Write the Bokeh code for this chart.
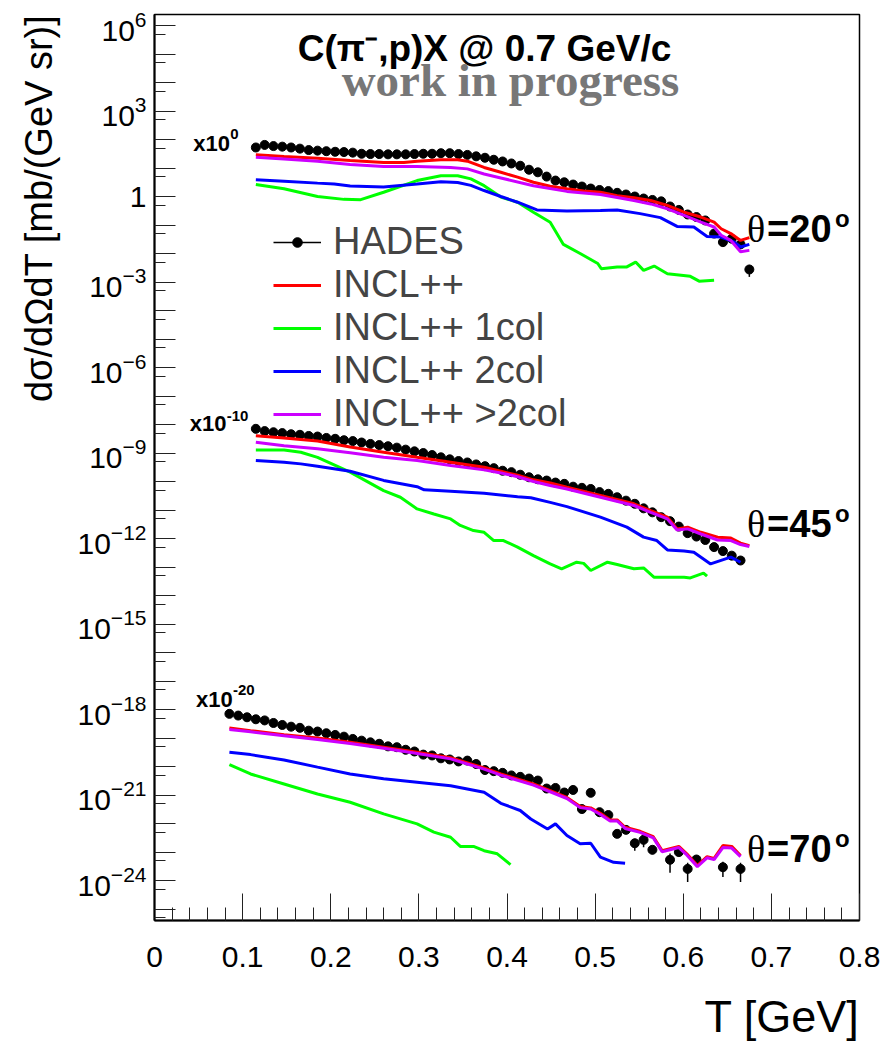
import numpy as np
from bokeh.plotting import figure
from bokeh.models import Range1d, FixedTicker, Legend, LegendItem, ColumnDataSource, Title
from bokeh.core.properties import value
from bokeh.embed import file_html
from bokeh.resources import INLINE

# ---------------- data: log10 of dsigma/dOmega dT [mb/(GeV sr)], before scaling ----------------
angle_names = ["20", "45", "70"]
scale_factors = [1.0, 1e-10, 1e-20]
scale_exponents = ["0", "-10", "-20"]
series_names = ["HADES", "INCL++", "INCL++ 1col", "INCL++ 2col", "INCL++ >2col"]

# HADES, theta = 20 deg
hades_T_20 = [0.115, 0.125, 0.135, 0.145, 0.155, 0.165, 0.175, 0.185, 0.195, 0.205,
              0.215, 0.225, 0.235, 0.245, 0.255, 0.265, 0.275, 0.285, 0.295, 0.305,
              0.315, 0.325, 0.335, 0.345, 0.355, 0.365, 0.375, 0.385, 0.395, 0.405,
              0.415, 0.425, 0.435, 0.445, 0.455, 0.465, 0.475, 0.485, 0.495, 0.505,
              0.515, 0.525, 0.535, 0.545, 0.555, 0.565, 0.575, 0.585, 0.595, 0.605,
              0.615, 0.625, 0.635, 0.645, 0.655, 0.665, 0.675]
hades_log_20 = [1.72, 1.81, 1.77, 1.75, 1.72, 1.68, 1.63, 1.61, 1.59, 1.57,
                1.56, 1.54, 1.50, 1.49, 1.49, 1.48, 1.48, 1.48, 1.49, 1.50,
                1.50, 1.52, 1.52, 1.49, 1.46, 1.41, 1.36, 1.29, 1.23, 1.16,
                1.08, 0.94, 0.85, 0.70, 0.56, 0.50, 0.42, 0.35, 0.28, 0.23,
                0.19, 0.13, 0.07, 0.00, -0.07, -0.12, -0.17, -0.35, -0.47, -0.63,
                -0.72, -0.84, -1.30, -1.60, -1.48, -1.68, -2.56]
hades_relerr_20 = [0.03, 0.03, 0.03, 0.03, 0.03, 0.03, 0.03, 0.03, 0.03, 0.03,
                   0.03, 0.03, 0.03, 0.03, 0.03, 0.03, 0.03, 0.03, 0.03, 0.03,
                   0.03, 0.03, 0.03, 0.03, 0.03, 0.03, 0.03, 0.03, 0.03, 0.03,
                   0.04, 0.04, 0.04, 0.04, 0.04, 0.04, 0.04, 0.04, 0.04, 0.04,
                   0.05, 0.05, 0.05, 0.05, 0.05, 0.05, 0.05, 0.06, 0.06, 0.06,
                   0.07, 0.07, 0.08, 0.10, 0.10, 0.12, 0.45]

# HADES, theta = 45 deg
hades_T_45 = [0.115, 0.125, 0.135, 0.145, 0.155, 0.165, 0.175, 0.185, 0.195, 0.205,
              0.215, 0.225, 0.235, 0.245, 0.255, 0.265, 0.275, 0.285, 0.295, 0.305,
              0.315, 0.325, 0.335, 0.345, 0.355, 0.365, 0.375, 0.385, 0.395, 0.405,
              0.415, 0.425, 0.435, 0.445, 0.455, 0.465, 0.475, 0.485, 0.495, 0.505,
              0.515, 0.525, 0.535, 0.545, 0.555, 0.565, 0.575, 0.585, 0.595, 0.605,
              0.615, 0.625, 0.635, 0.645, 0.655, 0.665]
hades_log_45 = [1.85, 1.77, 1.73, 1.70, 1.66, 1.64, 1.60, 1.58, 1.53, 1.50,
                1.45, 1.42, 1.37, 1.32, 1.28, 1.24, 1.19, 1.12, 1.06, 1.00,
                0.93, 0.85, 0.78, 0.72, 0.67, 0.60, 0.54, 0.47, 0.38, 0.33,
                0.24, 0.15, 0.08, 0.035, -0.035, -0.08, -0.18, -0.22, -0.26, -0.37,
                -0.43, -0.55, -0.67, -0.78, -0.94, -1.08, -1.25, -1.39, -1.58, -1.81,
                -1.93, -2.05, -2.30, -2.44, -2.60, -2.77]
hades_relerr_45 = [0.03, 0.03, 0.03, 0.03, 0.03, 0.03, 0.03, 0.03, 0.03, 0.03,
                   0.03, 0.03, 0.03, 0.03, 0.03, 0.03, 0.03, 0.03, 0.03, 0.03,
                   0.03, 0.03, 0.03, 0.03, 0.03, 0.03, 0.03, 0.03, 0.03, 0.03,
                   0.04, 0.04, 0.04, 0.04, 0.04, 0.04, 0.04, 0.04, 0.04, 0.04,
                   0.05, 0.05, 0.05, 0.05, 0.05, 0.05, 0.05, 0.06, 0.06, 0.06,
                   0.08, 0.08, 0.10, 0.10, 0.12, 0.12]

# HADES, theta = 70 deg (nan = no point)
hades_T_70 = [0.085, 0.095, 0.105, 0.115, 0.125, 0.135, 0.145, 0.155, 0.165, 0.175,
              0.185, 0.195, 0.205, 0.215, 0.225, 0.235, 0.245, 0.255, 0.265, 0.275,
              0.285, 0.295, 0.305, 0.315, 0.325, 0.335, 0.345, 0.355, 0.365, 0.375,
              0.385, 0.395, 0.405, 0.415, 0.425, 0.435, 0.445, 0.455, 0.465, 0.475,
              0.485, 0.495, 0.505, 0.515, 0.525, 0.535, 0.545, 0.555, 0.565, 0.575,
              0.585, 0.595, 0.605, 0.615, 0.625, 0.635, 0.645, 0.655, 0.665]
hades_log_70 = [1.85, 1.79, 1.73, 1.66, 1.62, 1.53, 1.46, 1.40, 1.36, 1.26,
                1.23, 1.17, 1.11, 1.05, 0.97, 0.91, 0.85, 0.80, 0.71, 0.68,
                0.59, 0.53, 0.42, 0.39, 0.29, 0.25, 0.18, 0.21, 0.09, -0.12,
                -0.16, -0.22, -0.31, -0.36, -0.42, -0.49, -0.77, -0.75, -0.91, -0.82,
                -1.49, -0.92, -1.60, -1.70, -2.36, -2.22, -2.69, -2.57, -2.92, np.nan,
                -3.27, -3.00, -3.59, -3.26, np.nan, np.nan, -3.53, np.nan, -3.59]
hades_relerr_70 = [0.03, 0.03, 0.03, 0.03, 0.03, 0.03, 0.03, 0.03, 0.03, 0.03,
                   0.03, 0.03, 0.03, 0.03, 0.03, 0.03, 0.03, 0.03, 0.03, 0.03,
                   0.04, 0.04, 0.04, 0.04, 0.04, 0.04, 0.04, 0.04, 0.04, 0.05,
                   0.05, 0.05, 0.05, 0.06, 0.06, 0.06, 0.08, 0.08, 0.10, 0.10,
                   0.12, 0.12, 0.15, 0.15, 0.20, 0.20, 0.45, 0.45, 0.30, 0.0,
                   0.65, 0.30, 0.65, 0.30, 0.0, 0.0, 0.55, 0.0, 0.65]

# INCL++ total (red)
red_T_20 = [0.115, 0.147, 0.185, 0.222, 0.260, 0.283, 0.298, 0.325, 0.344, 0.355,
            0.374, 0.393, 0.412, 0.430, 0.449, 0.468, 0.487, 0.506, 0.525, 0.544,
            0.563, 0.582, 0.601, 0.620, 0.635, 0.643, 0.654, 0.665, 0.675]
red_log_20 = [1.47, 1.40, 1.34, 1.26, 1.19, 1.19, 1.24, 1.29, 1.29, 1.24,
              1.02, 0.85, 0.68, 0.50, 0.36, 0.27, 0.19, 0.15, 0.03, -0.04,
              -0.14, -0.31, -0.55, -0.72, -0.90, -1.13, -1.30, -1.54, -1.44]
red_T_45 = [0.115, 0.147, 0.185, 0.222, 0.260, 0.298, 0.336, 0.374, 0.393, 0.412,
            0.430, 0.449, 0.468, 0.506, 0.544, 0.563, 0.582, 0.593, 0.605, 0.620,
            0.639, 0.654, 0.665, 0.675]
red_log_45 = [1.61, 1.53, 1.42, 1.21, 1.03, 0.85, 0.68, 0.50, 0.36, 0.22,
              0.06, -0.05, -0.20, -0.49, -0.78, -1.02, -1.25, -1.66, -1.60, -1.78,
              -1.95, -1.98, -2.16, -2.25]
red_T_70 = [0.085, 0.109, 0.147, 0.185, 0.222, 0.260, 0.298, 0.336, 0.374, 0.393,
            0.430, 0.468, 0.483, 0.495, 0.506, 0.517, 0.525, 0.534, 0.551, 0.566,
            0.576, 0.595, 0.604, 0.616, 0.627, 0.635, 0.645, 0.655, 0.665]
red_log_70 = [1.35, 1.26, 1.12, 1.00, 0.85, 0.68, 0.50, 0.31, -0.05, -0.26,
              -0.61, -1.08, -1.40, -1.45, -1.64, -1.87, -1.87, -2.13, -2.27, -2.46,
              -2.95, -2.80, -3.06, -3.47, -3.16, -3.22, -2.77, -2.80, -3.12]

# INCL++ 1 collision (green)
green_T_20 = [0.115, 0.147, 0.185, 0.215, 0.234, 0.260, 0.298, 0.325, 0.344, 0.359,
              0.374, 0.393, 0.412, 0.430, 0.449, 0.464, 0.483, 0.503, 0.507, 0.525,
              0.536, 0.546, 0.555, 0.567, 0.582, 0.608, 0.618, 0.635]
green_log_20 = [0.42, 0.27, 0.00, -0.10, -0.11, 0.15, 0.56, 0.73, 0.73, 0.62,
                0.38, -0.02, -0.20, -0.55, -0.90, -1.68, -2.00, -2.35, -2.53, -2.47,
                -2.47, -2.30, -2.59, -2.44, -2.71, -2.80, -2.97, -2.94]
green_T_45 = [0.115, 0.147, 0.166, 0.185, 0.222, 0.260, 0.279, 0.298, 0.317, 0.336,
              0.347, 0.362, 0.374, 0.385, 0.396, 0.412, 0.430, 0.449, 0.462, 0.479,
              0.487, 0.495, 0.514, 0.525, 0.544, 0.555, 0.567, 0.601, 0.608, 0.623,
              0.627]
green_log_45 = [1.11, 1.11, 1.03, 0.85, 0.33, -0.32, -0.55, -0.96, -1.14, -1.31,
                -1.54, -1.72, -1.78, -2.07, -2.07, -2.30, -2.60, -2.89, -3.06, -2.83,
                -2.87, -3.12, -2.83, -2.91, -3.06, -3.03, -3.36, -3.36, -3.38, -3.21,
                -3.32]
green_T_70 = [0.085, 0.109, 0.147, 0.185, 0.222, 0.260, 0.298, 0.317, 0.336, 0.347,
              0.362, 0.374, 0.389, 0.404]
green_log_70 = [0.07, -0.26, -0.61, -0.96, -1.25, -1.66, -2.01, -2.30, -2.48, -2.80,
                -2.80, -2.95, -3.06, -3.44]

# INCL++ 2 collisions (blue)
blue_T_20 = [0.115, 0.147, 0.185, 0.204, 0.222, 0.260, 0.298, 0.325, 0.344, 0.359,
             0.374, 0.393, 0.412, 0.434, 0.468, 0.506, 0.525, 0.551, 0.574, 0.593,
             0.612, 0.627, 0.643, 0.658, 0.665, 0.675]
blue_log_20 = [0.59, 0.54, 0.47, 0.44, 0.37, 0.33, 0.44, 0.52, 0.49, 0.39,
               0.21, 0.00, -0.20, -0.47, -0.51, -0.49, -0.47, -0.60, -0.74, -1.05,
               -1.07, -1.40, -1.42, -1.60, -1.77, -1.68]
blue_T_45 = [0.115, 0.147, 0.166, 0.185, 0.222, 0.260, 0.298, 0.306, 0.336, 0.374,
             0.412, 0.427, 0.449, 0.468, 0.506, 0.536, 0.555, 0.570, 0.582, 0.601,
             0.612, 0.631, 0.654, 0.665]
blue_log_45 = [0.74, 0.68, 0.62, 0.54, 0.36, 0.04, -0.18, -0.29, -0.34, -0.41,
               -0.53, -0.57, -0.73, -0.88, -1.25, -1.60, -1.95, -2.07, -2.40, -2.44,
               -2.48, -2.89, -2.65, -2.83]
blue_T_70 = [0.085, 0.109, 0.147, 0.185, 0.222, 0.260, 0.298, 0.336, 0.374, 0.393,
             0.415, 0.427, 0.446, 0.455, 0.468, 0.483, 0.495, 0.506, 0.521, 0.534]
blue_log_70 = [0.50, 0.42, 0.23, -0.02, -0.26, -0.43, -0.55, -0.67, -0.90, -1.29,
               -1.54, -1.84, -2.19, -2.01, -2.42, -2.71, -2.69, -3.18, -3.36, -3.39]

# INCL++ >2 collisions (magenta)
mag_T_20 = [0.115, 0.147, 0.185, 0.222, 0.260, 0.298, 0.336, 0.355, 0.374, 0.393,
            0.430, 0.468, 0.506, 0.544, 0.563, 0.582, 0.601, 0.620, 0.635, 0.643,
            0.654, 0.665, 0.675]
mag_log_20 = [1.38, 1.32, 1.24, 1.12, 1.05, 1.05, 1.02, 0.97, 0.79, 0.65,
              0.38, 0.18, 0.07, -0.14, -0.26, -0.43, -0.66, -0.90, -1.07, -1.36,
              -1.54, -1.94, -1.89]
mag_T_45 = [0.115, 0.147, 0.185, 0.222, 0.260, 0.298, 0.336, 0.374, 0.393, 0.412,
            0.430, 0.449, 0.468, 0.506, 0.544, 0.563, 0.582, 0.593, 0.605, 0.620,
            0.639, 0.654, 0.665, 0.675]
mag_log_45 = [1.38, 1.26, 1.15, 1.01, 0.85, 0.74, 0.56, 0.41, 0.30, 0.17,
              0.00, -0.14, -0.26, -0.55, -0.84, -1.08, -1.31, -1.70, -1.66, -1.84,
              -2.05, -2.07, -2.21, -2.28]
mag_T_70 = [0.085, 0.109, 0.147, 0.185, 0.222, 0.260, 0.298, 0.336, 0.374, 0.393,
            0.430, 0.468, 0.483, 0.495, 0.506, 0.517, 0.525, 0.534, 0.551, 0.566,
            0.576, 0.595, 0.604, 0.616, 0.627, 0.635, 0.645, 0.655, 0.665]
mag_log_70 = [1.30, 1.22, 1.08, 0.95, 0.81, 0.64, 0.46, 0.27, -0.09, -0.30,
              -0.65, -1.12, -1.44, -1.49, -1.68, -1.91, -1.91, -2.17, -2.31, -2.50,
              -2.99, -2.84, -3.10, -3.51, -3.20, -3.26, -2.84, -2.86, -3.16]

x_tick_labels = ["0", "0.1", "0.2", "0.3", "0.4", "0.5", "0.6", "0.7", "0.8"]

# ---------------- assemble ----------------
hades = {"20": (hades_T_20, hades_log_20, hades_relerr_20),
         "45": (hades_T_45, hades_log_45, hades_relerr_45),
         "70": (hades_T_70, hades_log_70, hades_relerr_70)}
models = {
    "INCL++ 1col": {"20": (green_T_20, green_log_20), "45": (green_T_45, green_log_45), "70": (green_T_70, green_log_70)},
    "INCL++ 2col": {"20": (blue_T_20, blue_log_20), "45": (blue_T_45, blue_log_45), "70": (blue_T_70, blue_log_70)},
    "INCL++": {"20": (red_T_20, red_log_20), "45": (red_T_45, red_log_45), "70": (red_T_70, red_log_70)},
    "INCL++ >2col": {"20": (mag_T_20, mag_log_20), "45": (mag_T_45, mag_log_45), "70": (mag_T_70, mag_log_70)},
}
colors = {"INCL++": "#ff0000", "INCL++ 1col": "#00ff00", "INCL++ 2col": "#0000ff", "INCL++ >2col": "#cc00ff"}

FONT = "Liberation Sans"

p = figure(width=889, height=1050, y_axis_type="log",
           x_range=Range1d(0, 0.8), y_range=Range1d(10 ** -25.40, 10 ** 6.386),
           output_backend="svg", toolbar_location=None,
           min_border_left=154, min_border_right=30, min_border_top=14, min_border_bottom=130)
p.xgrid.visible = False
p.ygrid.visible = False
p.outline_line_color = "black"
p.outline_line_width = 1.5
p.background_fill_color = "white"
p.border_fill_color = "white"

# x axis
x_ticks = [0.0, 0.1, 0.2, 0.3, 0.4, 0.5, 0.6, 0.7, 0.8]
x_minor = [round(0.02 * k, 2) for k in range(0, 41)]
p.xaxis.ticker = FixedTicker(ticks=x_ticks, minor_ticks=x_minor)
p.xaxis.major_label_overrides = {t: s for t, s in zip(x_ticks, x_tick_labels)}
p.xaxis.major_tick_in = 27
p.xaxis.major_tick_out = 0
p.xaxis.minor_tick_in = 13
p.xaxis.minor_tick_out = 0
p.xaxis.major_label_standoff = 26

# y axis
y_dec = [float("1e%d" % k) for k in range(-25, 7)]
y_minor = [float("5e%d" % k) for k in range(-26, 6)]
p.yaxis.ticker = FixedTicker(ticks=y_dec, minor_ticks=y_minor)
ovr = {}
for k in range(-25, 7):
    if k == 0:
        ovr[1.0] = "1"
    elif k % 3 != 0:
        ovr[float("1e%d" % k)] = ""
p.yaxis.major_label_overrides = ovr
p.yaxis.major_tick_in = 21
p.yaxis.major_tick_out = 0
p.yaxis.minor_tick_in = 11
p.yaxis.minor_tick_out = 0
p.yaxis.major_label_standoff = 8

for ax in (p.xaxis, p.yaxis):
    ax.axis_line_width = 2
    ax.axis_line_color = "black"
    ax.major_tick_line_color = "#222222"
    ax.minor_tick_line_color = "#222222"
    ax.major_label_text_font = FONT
    ax.major_label_text_font_size = "30px"
    ax.major_label_text_color = "black"
    # a blank spacer label to push the (end-aligned) axis titles a little outward
    ax.axis_label = " "
    ax.axis_label_text_font_size = "1px"
p.xaxis.axis_label_standoff = 13
p.yaxis.axis_label_standoff = 9

# axis titles (ROOT style: aligned to the end of each axis)
p.add_layout(Title(text="dσ/dΩdT [mb/(GeV sr)]", align="right", standoff=4,
                   text_font=FONT, text_font_size="38px", text_font_style="normal",
                   text_color="black"), "left")
p.add_layout(Title(text="T [GeV]", align="right", standoff=4,
                   text_font=FONT, text_font_size="45px", text_font_style="normal",
                   text_color="black"), "below")

legend_renderers = {}
for i, ang in enumerate(angle_names):
    s = scale_factors[i]
    T, L, E = hades[ang]
    v = s * 10 ** np.array(L, dtype=float)
    e = np.array(E, dtype=float)
    src = ColumnDataSource(dict(x=T, y=v, lo=v * (1 - e), hi=v * (1 + e)))
    seg = p.segment(x0="x", y0="lo", x1="x", y1="hi", source=src, line_color="black", line_width=1.5)
    sc = p.scatter(x="x", y="y", source=src, marker="circle", size=9,
                   fill_color="black", line_color="black")
    if i == 0:
        legend_renderers["HADES"] = [seg, sc]
    for name in ["INCL++ 1col", "INCL++ 2col", "INCL++", "INCL++ >2col"]:
        Tm, Lm = models[name][ang]
        r = p.line(Tm, s * 10 ** np.array(Lm, dtype=float), line_color=colors[name], line_width=3)
        if i == 0:
            legend_renderers[name] = [r]

items = [LegendItem(label=n, renderers=legend_renderers[n]) for n in series_names]
legend = Legend(items=items, location=(119, 485), orientation="vertical",
                label_text_font=FONT, label_text_font_size="38px",
                glyph_width=48, glyph_height=24, label_standoff=12,
                spacing=0, padding=0, margin=0,
                border_line_alpha=0, background_fill_alpha=0)
p.add_layout(legend)


def txt(x, y, s, size, font=FONT, style="normal", color="black", align="left", xo=0, yo=0):
    p.text(x=[x], y=[y], text=[s], text_font=value(font), text_font_size=size,
           text_font_style=style, text_color=color, text_align=align,
           text_baseline="middle", x_offset=xo, y_offset=yo)


# title lines
txt(0.3745, 10 ** 5.193, "C(π⁻,p)X @ 0.7 GeV/c", "37px", style="bold", align="center")
txt(0.404, 10 ** 4.105, "work in progress", "47px", font="Liberation Serif", style="bold",
    color="#777777", align="center")

# scale annotations (x10^n)
scale_anchor_x = [0.044, 0.040, 0.047]
scale_anchor_logy = [1.860, -7.965, -17.649]
scale_raise = [-10, -8, -10]
for i in range(3):
    yy = 10 ** scale_anchor_logy[i]
    txt(scale_anchor_x[i], yy, "x10", "22px", style="bold")
    txt(scale_anchor_x[i], yy, scale_exponents[i], "15px", style="bold", xo=37, yo=scale_raise[i])

# angle labels
theta_anchor_x = 0.6724
theta_anchor_logy = [-1.140, -11.491, -22.895]
for i in range(3):
    yy = 10 ** theta_anchor_logy[i]
    txt(theta_anchor_x, yy, "θ", "38px", font="Liberation Serif")
    txt(theta_anchor_x, yy, "=" + angle_names[i], "38px", style="bold", xo=20)
    txt(theta_anchor_x, yy, "o", "24px", style="bold", xo=88, yo=-11)

open("out.html", "w").write(file_html(p, INLINE))
